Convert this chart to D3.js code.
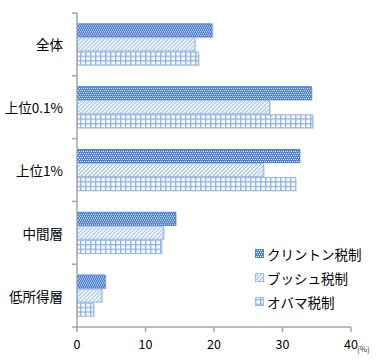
<!DOCTYPE html>
<html>
<head>
<meta charset="utf-8">
<script src="https://cdn.jsdelivr.net/npm/d3@7"></script>
<style>
  body { margin: 0; background: #fff; }
  text { font-family: "Noto Sans CJK JP", "DejaVu Sans", sans-serif; }
</style>
</head>
<body>
<svg id="chart" width="388" height="362"></svg>
<script>
// data
var categories = ["全体", "上位0.1%", "上位1%", "中間層", "低所得層"];
var seriesNames = ["クリントン税制", "ブッシュ税制", "オバマ税制"];
var clinton = [19.7, 34.2, 32.5, 14.4, 4.1];
var bush    = [17.2, 28.1, 27.2, 12.6, 3.6];
var obama   = [17.7, 34.4, 31.9, 12.3, 2.4];
var xTicks = [0, 10, 20, 30, 40];

var seriesValues = [clinton, bush, obama];

var svg = d3.select("#chart");
var plotLeft = 77, plotRight = 351, plotTop = 13, plotBottom = 327;

var x = d3.scaleLinear().domain([0, 40]).range([plotLeft, plotRight]);
var y0 = d3.scaleBand().domain(categories).range([plotTop, plotBottom])
  .paddingInner(0.33).paddingOuter(0.165);
var y1 = d3.scaleBand().domain(d3.range(3)).range([0, y0.bandwidth()]);

// patterns
var defs = svg.append("defs");
var p1 = defs.append("pattern").attr("id", "pat0").attr("patternUnits", "userSpaceOnUse")
  .attr("width", 4).attr("height", 4);
p1.append("rect").attr("width", 4).attr("height", 4).attr("fill", "#4a7fd2");
[[0,0],[2,0],[1,2],[3,2]].forEach(function(p){
  p1.append("rect").attr("x", p[0]).attr("y", p[1]).attr("width", 1).attr("height", 1).attr("fill", "#f4f7fc");
});

var p2 = defs.append("pattern").attr("id", "pat1").attr("patternUnits", "userSpaceOnUse")
  .attr("width", 4).attr("height", 4);
p2.append("rect").attr("width", 4).attr("height", 4).attr("fill", "#fff");
p2.append("path").attr("d", "M-1,1 L1,-1 M0,4 L4,0 M3,5 L5,3")
  .attr("stroke", "#95b8e6").attr("stroke-width", 1.1);

var p3 = defs.append("pattern").attr("id", "pat2").attr("patternUnits", "userSpaceOnUse")
  .attr("width", 5).attr("height", 4.6);
p3.append("rect").attr("width", 5).attr("height", 4.6).attr("fill", "#fff");
p3.append("rect").attr("width", 1.4).attr("height", 4.6).attr("fill", "#8fb6ea");
p3.append("rect").attr("width", 5).attr("height", 1.4).attr("fill", "#8fb6ea");

var strokes = ["#4f84d4", "#9dbce6", "#9dbce6"];

// bars
categories.forEach(function(c, ci){
  var g = svg.append("g").attr("transform", "translate(0," + y0(c) + ")");
  seriesValues.forEach(function(vals, si){
    var v = vals[ci];
    // soft shadow
    g.append("rect")
      .attr("x", x(0) + 1.5).attr("y", y1(si) + 1.5)
      .attr("width", x(v) - x(0)).attr("height", y1.bandwidth() - 1)
      .attr("fill", "#d6dbe2");
    g.append("rect")
      .attr("x", x(0) + 0.5).attr("y", y1(si) + 0.5)
      .attr("width", x(v) - x(0) - 0.5).attr("height", y1.bandwidth() - 1)
      .attr("fill", "url(#pat" + si + ")")
      .attr("stroke", strokes[si]).attr("stroke-width", 1);
  });
});

// y axis
var yAxis = svg.append("g");
yAxis.append("line").attr("x1", plotLeft).attr("x2", plotLeft).attr("y1", plotTop).attr("y2", plotBottom)
  .attr("stroke", "#a6a6a6").attr("stroke-width", 1.5);
var bounds = d3.range(categories.length + 1).map(function(i){ return plotTop + i * y0.step(); });
bounds.forEach(function(b){
  yAxis.append("line").attr("x1", plotLeft - 5).attr("x2", plotLeft).attr("y1", b).attr("y2", b)
    .attr("stroke", "#a6a6a6").attr("stroke-width", 1.5);
});
categories.forEach(function(c){
  yAxis.append("text")
    .attr("x", 63).attr("y", y0(c) + y0.bandwidth() / 2)
    .attr("text-anchor", "end").attr("dominant-baseline", "central")
    .attr("font-size", 13.5).attr("fill", "#000").text(c);
});

// x axis
var xAxis = svg.append("g");
xAxis.append("line").attr("x1", plotLeft).attr("x2", plotRight).attr("y1", plotBottom).attr("y2", plotBottom)
  .attr("stroke", "#a6a6a6").attr("stroke-width", 1.5);
xTicks.forEach(function(t){
  xAxis.append("line").attr("x1", x(t)).attr("x2", x(t)).attr("y1", plotBottom).attr("y2", plotBottom + 5)
    .attr("stroke", "#a6a6a6").attr("stroke-width", 1.5);
  xAxis.append("text").attr("x", x(t)).attr("y", 349)
    .attr("text-anchor", "middle").attr("font-size", 12.5).attr("fill", "#000").text(t);
});
svg.append("text").attr("x", 357).attr("y", 352).attr("font-size", 8).attr("fill", "#333").text("(%)");

// legend
var legend = svg.append("g");
seriesNames.forEach(function(n, i){
  var ly = 254 + i * 24;
  legend.append("rect").attr("x", 255.5).attr("y", ly - 4.5).attr("width", 8).attr("height", 8)
    .attr("fill", "url(#pat" + i + ")").attr("stroke", strokes[i]);
  legend.append("text").attr("x", 267).attr("y", ly)
    .attr("dominant-baseline", "central").attr("font-size", 13.5).attr("fill", "#000").text(n);
});
</script>
</body>
</html>
